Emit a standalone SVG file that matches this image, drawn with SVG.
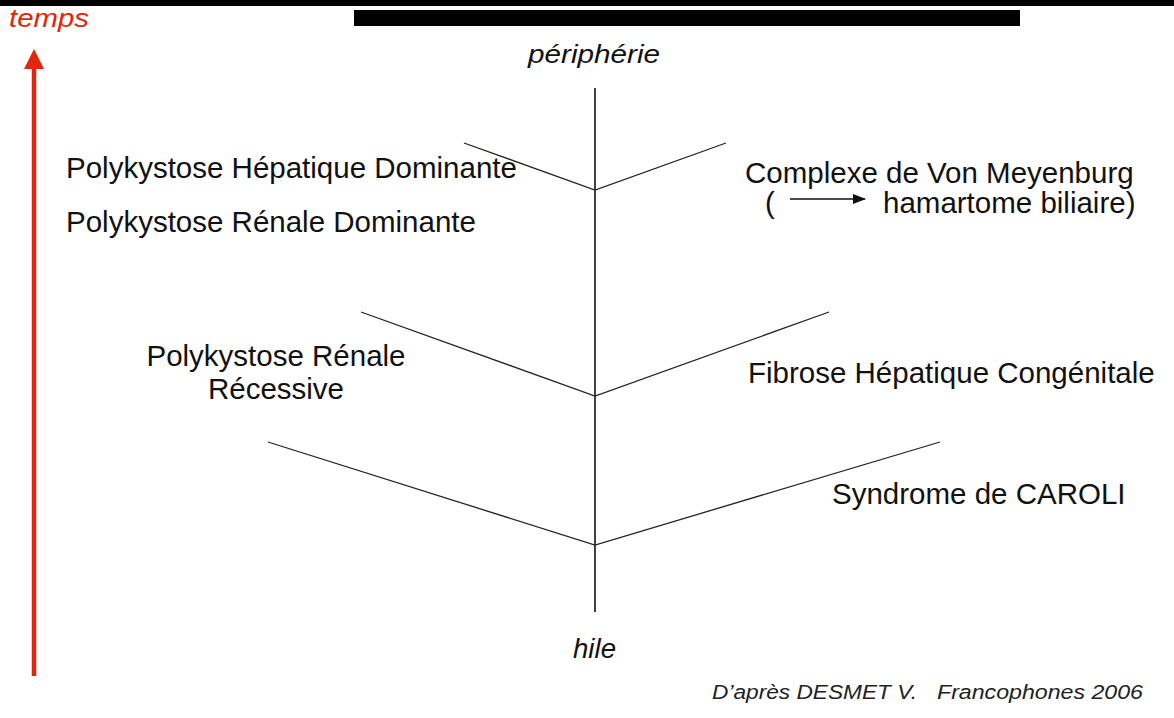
<svg xmlns="http://www.w3.org/2000/svg" width="1174" height="718" viewBox="0 0 1174 718">
<style>
.t{font-family:"Liberation Sans",Arial,sans-serif;font-size:29.5px;fill:#111}
.i{font-family:"Liberation Sans",Arial,sans-serif;font-style:italic;fill:#111}
.br{stroke:#222;stroke-width:1.3;fill:none}
.red{fill:#E2260C}
</style>
<defs>
<marker id="ah" markerWidth="13" markerHeight="10" refX="12" refY="5" orient="auto" markerUnits="userSpaceOnUse">
<path d="M0,0 L13,5 L0,10 Z" fill="#111"/>
</marker>
</defs>
<rect width="1174" height="718" fill="#fff"/>
<rect x="0" y="0" width="1174" height="6" fill="#000"/>
<rect x="354" y="10" width="666" height="16" fill="#000"/>

<g id="time-axis">
<line x1="34" y1="676" x2="34" y2="66" stroke="#E2260C" stroke-width="4.5"/>
<path d="M34,49 L44,69 L24,69 Z" class="red"/>
<text x="9" y="27" class="i" font-size="26" textLength="80" lengthAdjust="spacingAndGlyphs" style="fill:#E2260C">temps</text>
</g>

<g id="connectors">
<line x1="595" y1="88" x2="595" y2="612" stroke="#111" stroke-width="1.6"/>
<polyline class="br" points="464,143 595,190 726,143"/>
<polyline class="br" points="361,312 595,396 829,312"/>
<polyline class="br" points="268,442 595,545 940,442"/>
</g>

<g id="peripherie"><text x="528" y="63" class="i" font-size="25" textLength="132" lengthAdjust="spacingAndGlyphs">périphérie</text></g>
<g id="hile"><text x="573" y="658" class="i" font-size="27" textLength="43" lengthAdjust="spacingAndGlyphs">hile</text></g>

<g id="phd"><text x="66" y="178" class="t">Polykystose Hépatique Dominante</text></g>
<g id="prd"><text x="66" y="232" class="t">Polykystose Rénale Dominante</text></g>
<g id="prr">
<text x="276" y="366" class="t" text-anchor="middle">Polykystose Rénale</text>
<text x="276" y="399" class="t" text-anchor="middle">Récessive</text>
</g>
<g id="vmc">
<text x="745" y="183" class="t">Complexe de Von Meyenburg</text>
<text x="765" y="213" class="t">(</text>
<line x1="790" y1="199" x2="865" y2="199" stroke="#111" stroke-width="1.6" marker-end="url(#ah)"/>
<text x="883" y="213" class="t">hamartome biliaire)</text>
</g>
<g id="fhc"><text x="748" y="383" class="t">Fibrose Hépatique Congénitale</text></g>
<g id="caroli"><text x="832" y="504" class="t">Syndrome de CAROLI</text></g>

<g id="source">
<text x="712" y="699" class="i" font-size="20" textLength="205" lengthAdjust="spacingAndGlyphs" style="fill:#222">D’après DESMET V.</text>
<text x="937" y="699" class="i" font-size="20" textLength="206" lengthAdjust="spacingAndGlyphs" style="fill:#222">Francophones 2006</text>
</g>
</svg>
